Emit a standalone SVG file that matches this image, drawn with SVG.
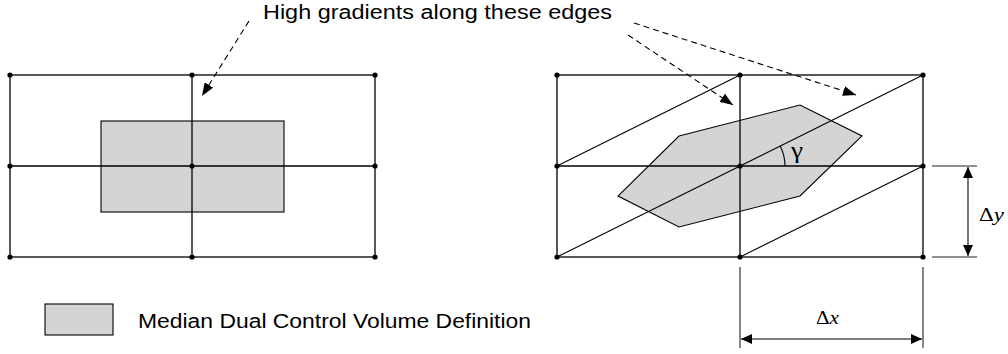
<svg xmlns="http://www.w3.org/2000/svg" width="1008" height="354" viewBox="0 0 1008 354">
<style>
.ln{stroke:#000;stroke-width:1.3;fill:none}
.thin{stroke:#000;stroke-width:1.1;fill:none}
.ext{stroke:#222;stroke-width:1.1;fill:none}
.cv{fill:#d4d4d4;stroke:#000;stroke-width:1.1}
.dot{fill:#000}
.dash{stroke:#000;stroke-width:1.1;fill:none;stroke-dasharray:6,4}
.dim{stroke:#000;stroke-width:1.1;fill:none}
.sans{font-family:"Liberation Sans",Arial,sans-serif;font-size:20px;fill:#000}
.serif{font-family:"Liberation Serif","Times New Roman",serif;fill:#000}
</style>
<defs>
<marker id="ah" markerUnits="userSpaceOnUse" markerWidth="14" markerHeight="10" refX="13" refY="5" orient="auto-start-reverse" viewBox="0 0 14 10">
<path d="M0,0 L13,5 L0,10 z" fill="#000"/>
</marker>
<marker id="dh" markerUnits="userSpaceOnUse" markerWidth="12" markerHeight="10" refX="11" refY="5" orient="auto-start-reverse" viewBox="0 0 12 10">
<path d="M0,0 L11,5 L0,10 z" fill="#000"/>
</marker>
</defs>
<rect width="1008" height="354" fill="#fff"/>

<g id="left-grid">
<rect class="cv" x="101" y="121" width="183" height="91"/>
<rect class="ln" x="10" y="75" width="365" height="182"/>
<line class="ln" x1="10" y1="166" x2="375" y2="166"/>
<line class="ln" x1="192" y1="75" x2="192" y2="257"/>
<g class="dot">
<circle cx="10" cy="75" r="2.6"/><circle cx="192" cy="75" r="2.6"/><circle cx="375" cy="75" r="2.6"/>
<circle cx="10" cy="166" r="2.6"/><circle cx="192" cy="166" r="2.6"/><circle cx="375" cy="166" r="2.6"/>
<circle cx="10" cy="257" r="2.6"/><circle cx="192" cy="257" r="2.6"/><circle cx="375" cy="257" r="2.6"/>
</g>
</g>

<g id="right-grid">
<polygon class="cv" points="679,136 800,105 862,136 800,196 679,227 618,196"/>
<rect class="ln" x="557" y="75" width="366" height="182"/>
<line class="ln" x1="557" y1="166" x2="923" y2="166"/>
<line class="ln" x1="740" y1="75" x2="740" y2="257"/>
<line class="thin" x1="557" y1="166" x2="740" y2="75"/>
<line class="thin" x1="557" y1="257" x2="923" y2="75"/>
<line class="thin" x1="740" y1="257" x2="923" y2="166"/>
<g class="dot">
<circle cx="557" cy="75" r="2.6"/><circle cx="740" cy="75" r="2.6"/><circle cx="923" cy="75" r="2.6"/>
<circle cx="557" cy="166" r="2.6"/><circle cx="740" cy="166" r="2.6"/><circle cx="923" cy="166" r="2.6"/>
<circle cx="557" cy="257" r="2.6"/><circle cx="740" cy="257" r="2.6"/><circle cx="923" cy="257" r="2.6"/>
</g>
</g>

<g id="angle-gamma">
<path class="thin" d="M785,166 A45,45 0 0 0 780.2,145.9"/>
<text class="serif" x="791" y="158" font-size="23" textLength="12" lengthAdjust="spacingAndGlyphs">γ</text>
</g>

<g id="title-label">
<text class="sans" x="263" y="19" textLength="349" lengthAdjust="spacingAndGlyphs">High gradients along these edges</text>
</g>

<g id="connectors">
<line class="dash" x1="249" y1="21" x2="202" y2="96" marker-end="url(#ah)"/>
<line class="dash" x1="628" y1="35" x2="733" y2="105" marker-end="url(#ah)"/>
<line class="dash" x1="634" y1="23" x2="856" y2="95" marker-end="url(#ah)"/>
</g>

<g id="dim-dy">
<line class="ext" x1="932" y1="166" x2="977" y2="166"/>
<line class="ext" x1="932" y1="257" x2="977" y2="257"/>
<line class="dim" x1="968" y1="167" x2="968" y2="256" marker-start="url(#dh)" marker-end="url(#dh)"/>
<text class="serif" x="979" y="221" font-size="19" textLength="25" lengthAdjust="spacingAndGlyphs">Δ<tspan font-style="italic">y</tspan></text>
</g>

<g id="dim-dx">
<line class="ext" x1="740" y1="267" x2="740" y2="348"/>
<line class="ext" x1="923" y1="267" x2="923" y2="348"/>
<line class="dim" x1="741" y1="339" x2="922" y2="339" marker-start="url(#dh)" marker-end="url(#dh)"/>
<text class="serif" x="816" y="324" font-size="19" textLength="23" lengthAdjust="spacingAndGlyphs">Δ<tspan font-style="italic">x</tspan></text>
</g>

<g id="legend">
<rect class="cv" x="45" y="304" width="68" height="31"/>
<text class="sans" x="138" y="328" textLength="393" lengthAdjust="spacingAndGlyphs">Median Dual Control Volume Definition</text>
</g>
</svg>
